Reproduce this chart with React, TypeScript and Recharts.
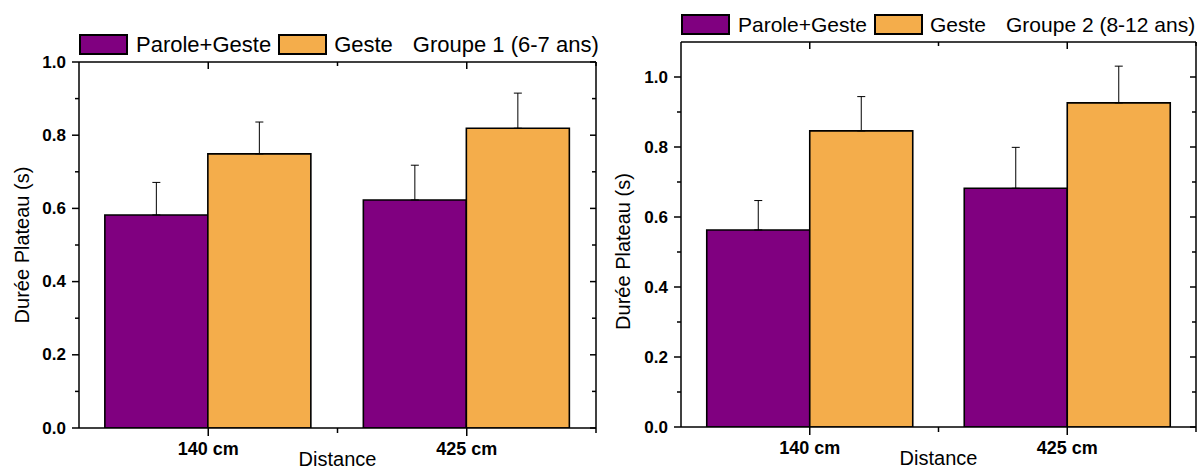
import React from 'react';
import { BarChart, Bar, XAxis, YAxis, ErrorBar, Legend } from 'recharts';

// ---------- data ----------
const categories = ['140 cm', '425 cm'];
const seriesNames = ['Parole+Geste', 'Geste'];
const group1Title = 'Groupe 1 (6-7 ans)';
const group2Title = 'Groupe 2 (8-12 ans)';

const g1ParoleGeste = [0.582, 0.623];
const g1ParoleGesteErr = [0.089, 0.095];
const g1Geste = [0.749, 0.819];
const g1GesteErr = [0.087, 0.096];

const g2ParoleGeste = [0.563, 0.682];
const g2ParoleGesteErr = [0.084, 0.117];
const g2Geste = [0.846, 0.926];
const g2GesteErr = [0.098, 0.105];

const yTicks = [0, 0.1, 0.2, 0.3, 0.4, 0.5, 0.6, 0.7, 0.8, 0.9, 1.0];
const g1YMax = 1.0;
const g2YMax = 1.1;

const xAxisTitle = 'Distance';
const yAxisTitle = 'Durée Plateau (s)';

// ---------- style ----------
const FONT = '"Liberation Sans", Arial, Helvetica, sans-serif';
const PURPLE = '#800080';
const ORANGE = '#F4AD4B';
const AXIS_W = 1.5;

const isMajor = (v: number) => Math.round(v * 10) % 2 === 0;

const buildData = (pg: number[], pgErr: number[], g: number[], gErr: number[]) =>
  categories.map((cat, i) => ({
    cat,
    pg: pg[i],
    pgErr: [0, pgErr[i]],
    g: g[i],
    gErr: [0, gErr[i]],
  }));

const LeftTick = (p: any) => {
  const v = p.payload.value as number;
  const major = isMajor(v);
  return (
    <g>
      <line x1={p.x} y1={p.y} x2={p.x - (major ? 7 : 4)} y2={p.y} stroke="#000" strokeWidth={AXIS_W} />
      {major && (
        <text
          x={p.x - 13}
          y={p.y}
          textAnchor="end"
          dominantBaseline="central"
          fontFamily={FONT}
          fontWeight="bold"
          fontSize={17}
          fill="#000"
        >
          {v.toFixed(1)}
        </text>
      )}
    </g>
  );
};

const RightTick = (p: any) => {
  const v = p.payload.value as number;
  const major = isMajor(v);
  return <line x1={p.x} y1={p.y} x2={p.x - (major ? 6 : 4)} y2={p.y} stroke="#000" strokeWidth={AXIS_W} />;
};

const TopTick = (p: any) => (
  <g>
    <line x1={p.x} y1={p.y} x2={p.x} y2={p.y + 7} stroke="#000" strokeWidth={AXIS_W} />
    <line x1={p.x + p.half} y1={p.y} x2={p.x + p.half} y2={p.y + 4} stroke="#000" strokeWidth={AXIS_W} />
  </g>
);

const BottomTick = (p: any) => (
  <g>
    <line x1={p.x} y1={p.y} x2={p.x} y2={p.y + 8} stroke="#000" strokeWidth={AXIS_W} />
    <line x1={p.x + p.half} y1={p.y} x2={p.x + p.half} y2={p.y + 5} stroke="#000" strokeWidth={AXIS_W} />
    <text
      x={p.x}
      y={p.y + 27}
      textAnchor="middle"
      fontFamily={FONT}
      fontWeight="bold"
      fontSize={18}
      fill="#000"
    >
      {p.payload.value}
    </text>
  </g>
);

const XTitle = (p: any) => {
  const vb = p.viewBox || {};
  const cx = (vb.x || 0) + (vb.width || 0) / 2;
  const y = (vb.y || 0) + 38;
  return (
    <text x={cx} y={y} textAnchor="middle" fontFamily={FONT} fontSize={20} fill="#000">
      {xAxisTitle}
    </text>
  );
};

const YTitle = (p: any) => {
  const vb = p.viewBox || {};
  const cx = (vb.x || 0) + 22;
  const cy = (vb.y || 0) + (vb.height || 0) / 2 + (p.shift || 0);
  return (
    <text
      x={cx}
      y={cy}
      transform={`rotate(-90 ${cx} ${cy})`}
      textAnchor="middle"
      dominantBaseline="central"
      fontFamily={FONT}
      fontSize={20}
      fill="#000"
    >
      {yAxisTitle}
    </text>
  );
};

const boxStyle = (bg: string): React.CSSProperties => ({
  display: 'inline-block',
  width: 49,
  height: 21,
  boxSizing: 'border-box',
  border: '2px solid #000',
  background: bg,
  flex: '0 0 auto',
});

const LegendRow = ({ title, fontSize }: { title: string; fontSize: number }) => (
  <div
    style={{
      display: 'flex',
      alignItems: 'center',
      height: 21,
      fontFamily: FONT,
      fontSize,
      lineHeight: '21px',
      color: '#000',
      whiteSpace: 'nowrap',
    }}
  >
    <span style={boxStyle(PURPLE)} />
    <span style={{ marginLeft: 8 }}>{seriesNames[0]}</span>
    <span style={{ ...boxStyle(ORANGE), marginLeft: 7 }} />
    <span style={{ marginLeft: 7 }}>{seriesNames[1]}</span>
    <span style={{ marginLeft: 20 }}>{title}</span>
  </div>
);

type PanelProps = {
  data: any[];
  title: string;
  legendFont: number;
  yMax: number;
  width: number;
  height: number;
  margin: { top: number; right: number; bottom: number; left: number };
  yAxisWidth: number;
  xAxisHeight: number;
  yTitleShift: number;
};

const Panel = ({ data, title, legendFont, yMax, width, height, margin, yAxisWidth, xAxisHeight, yTitleShift }: PanelProps) => {
  const plotW = width - margin.left - margin.right - yAxisWidth - 1;
  const half = plotW / (2 * categories.length);
  return (
    <BarChart
      width={width}
      height={height}
      data={data}
      margin={margin}
      barCategoryGap="10%"
      barGap={0}
    >
      <XAxis
        xAxisId="bottom"
        dataKey="cat"
        orientation="bottom"
        height={xAxisHeight}
        axisLine={{ stroke: '#000', strokeWidth: AXIS_W }}
        tickLine={false}
        tickSize={0}
        tickMargin={0}
        interval={0}
        tick={(p: any) => <BottomTick {...p} half={half} />}
        label={<XTitle />}
      />
      <XAxis
        xAxisId="top"
        dataKey="cat"
        orientation="top"
        height={1}
        axisLine={{ stroke: '#000', strokeWidth: AXIS_W }}
        tickLine={false}
        tickSize={0}
        tickMargin={0}
        interval={0}
        tick={(p: any) => <TopTick {...p} half={half} />}
      />
      <YAxis
        yAxisId="left"
        orientation="left"
        width={yAxisWidth}
        type="number"
        domain={[0, yMax]}
        allowDataOverflow
        ticks={yTicks}
        interval={0}
        axisLine={{ stroke: '#000', strokeWidth: AXIS_W }}
        tickLine={false}
        tickSize={0}
        tickMargin={0}
        tick={(p: any) => <LeftTick {...p} />}
        label={<YTitle shift={yTitleShift} />}
      />
      <YAxis
        yAxisId="right"
        orientation="right"
        width={1}
        type="number"
        domain={[0, yMax]}
        allowDataOverflow
        ticks={yTicks}
        interval={0}
        axisLine={{ stroke: '#000', strokeWidth: AXIS_W }}
        tickLine={false}
        tickSize={0}
        tickMargin={0}
        tick={(p: any) => <RightTick {...p} />}
      />
      <Legend
        layout="vertical"
        align="center"
        verticalAlign="middle"
        wrapperStyle={{ left: margin.left + yAxisWidth, top: margin.top + 1 - 28, width: 540, height: 21 }}
        content={() => <LegendRow title={title} fontSize={legendFont} />}
      />
      <Bar
        xAxisId="bottom"
        yAxisId="left"
        dataKey="pg"
        name={seriesNames[0]}
        fill={PURPLE}
        stroke="#000"
        strokeWidth={1.6}
        isAnimationActive={false}
      >
        <ErrorBar dataKey="pgErr" direction="y" width={4} stroke="#000" strokeWidth={1} />
      </Bar>
      <Bar
        xAxisId="bottom"
        yAxisId="left"
        dataKey="g"
        name={seriesNames[1]}
        fill={ORANGE}
        stroke="#000"
        strokeWidth={1.6}
        isAnimationActive={false}
      >
        <ErrorBar dataKey="gErr" direction="y" width={4} stroke="#000" strokeWidth={1} />
      </Bar>
    </BarChart>
  );
};

const data1 = buildData(g1ParoleGeste, g1ParoleGesteErr, g1Geste, g1GesteErr);
const data2 = buildData(g2ParoleGeste, g2ParoleGesteErr, g2Geste, g2GesteErr);

export default function App() {
  return (
    <div
      style={{
        position: 'absolute',
        left: 0,
        top: 0,
        width: 1202,
        height: 470,
        background: '#fff',
        fontFamily: FONT,
        overflow: 'hidden',
      }}
    >
      <div style={{ position: 'absolute', left: 0, top: 0 }}>
        <Panel
          data={data1}
          title={group1Title}
          legendFont={22}
          yMax={g1YMax}
          width={601}
          height={470}
          margin={{ top: 61, right: 4, bottom: 0, left: 0 }}
          yAxisWidth={79}
          xAxisHeight={42}
          yTitleShift={0}
        />
      </div>
      <div style={{ position: 'absolute', left: 601, top: 0 }}>
        <Panel
          data={data2}
          title={group2Title}
          legendFont={21}
          yMax={g2YMax}
          width={601}
          height={470}
          margin={{ top: 41, right: 5, bottom: 0, left: 0 }}
          yAxisWidth={80}
          xAxisHeight={43}
          yTitleShift={17}
        />
      </div>
    </div>
  );
}
